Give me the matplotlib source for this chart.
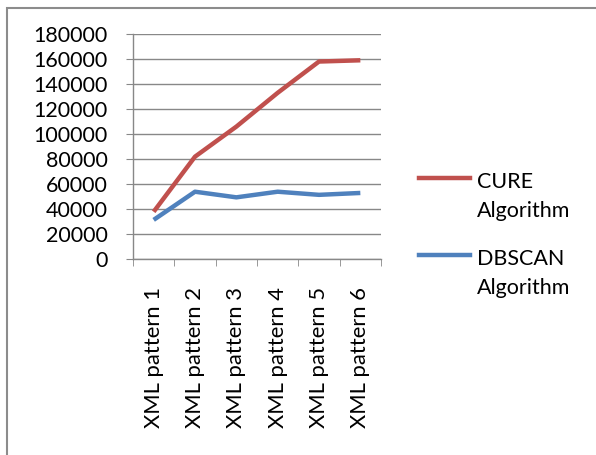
import matplotlib
matplotlib.use("Agg")
import matplotlib.pyplot as plt
from matplotlib.lines import Line2D
from matplotlib.patches import Rectangle

plt.rcParams['font.family'] = ['Lato', 'DejaVu Sans']

# data
patterns = ['XML pattern 1', 'XML pattern 2', 'XML pattern 3',
            'XML pattern 4', 'XML pattern 5', 'XML pattern 6']
cure = [38000, 82000, 106000, 133000, 158000, 159000]
dbscan = [31500, 54000, 49500, 54000, 51500, 53000]
yticks = list(range(0, 180001, 20000))

RED = '#C0504D'
BLUE = '#4F81BD'
GRID = '#888888'

W, H = 596, 455
fig = plt.figure(figsize=(W / 100, H / 100), dpi=100)
fig.patch.set_facecolor('white')

# outer chart frame (left and top edges visible)
fig.add_artist(Rectangle((6.5 / W, -0.05), 1.2, 1 - 7.5 / H + 0.05,
                         transform=fig.transFigure, fill=False,
                         edgecolor='#8c8c8c', linewidth=1.5))

left, right, top, bottom = 133, 381, 34, 259.3
ax = fig.add_axes([left / W, 1 - bottom / H, (right - left) / W, (bottom - top) / H])

x = list(range(len(patterns)))
ax.plot(x, cure, color=RED, linewidth=3.2, solid_capstyle='butt')
ax.plot(x, dbscan, color=BLUE, linewidth=3.2, solid_capstyle='butt')

ax.set_xlim(-0.5, len(patterns) - 0.5)
ax.set_ylim(0, 180000)
ax.set_yticks(yticks)
ax.set_yticklabels([str(v) for v in yticks])
ax.set_xticks(x)
ax.set_xticklabels(patterns, rotation=90)
ax.set_xticks([i - 0.5 for i in range(len(patterns) + 1)], minor=True)

ax.grid(axis='y', color=GRID, linewidth=1.0)
ax.set_axisbelow(True)
for s in ['top', 'right']:
    ax.spines[s].set_visible(False)
for s in ['left', 'bottom']:
    ax.spines[s].set_color(GRID)
    ax.spines[s].set_linewidth(1.0)

ax.tick_params(axis='y', length=5, color=GRID, pad=13, labelsize=15.5)
ax.tick_params(axis='x', which='major', length=0, pad=20, labelsize=15.8)
ax.tick_params(axis='x', which='minor', length=5, color=GRID)

# legend drawn at the right of the plot
for yy, col, txt in [(178, RED, 'CURE\nAlgorithm'), (255, BLUE, 'DBSCAN\nAlgorithm')]:
    fig.add_artist(Line2D([419 / W, 470 / W], [1 - yy / H, 1 - yy / H],
                          transform=fig.transFigure, color=col, linewidth=3.2))
    fig.text(477 / W, 1 - (yy - 6) / H, txt, fontsize=15.5, va='top', ha='left',
             linespacing=1.55)

fig.savefig('out.png', dpi=100)
